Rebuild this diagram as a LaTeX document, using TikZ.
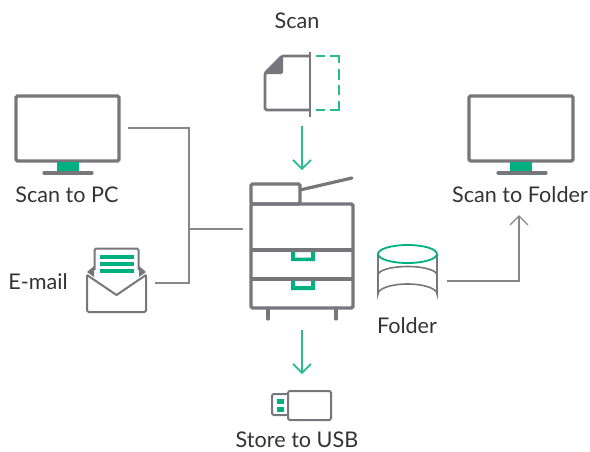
\documentclass[tikz,border=0pt]{standalone}
\usepackage{fontspec}
\setmainfont{Lato}
\usetikzlibrary{arrows.meta}
\definecolor{icongray}{HTML}{77777B}
\definecolor{linegray}{HTML}{87878A}
\definecolor{brandgreen}{HTML}{00B081}
\definecolor{arrowgreen}{HTML}{2ABB8E}
\definecolor{textcol}{HTML}{333333}
\tikzset{
  icon/.style={draw=icongray,line width=3.2pt,rounded corners=1.5pt},
  thinicon/.style={draw=icongray,line width=2pt,rounded corners=1.5pt},
  label/.style={text=textcol,font=\fontsize{21.6pt}{23pt}\selectfont,inner sep=0pt,anchor=base},
  wire/.style={draw=linegray,line width=1.4pt},
  greenarrow/.style={draw=arrowgreen,line width=1.6pt,-{Straight Barb[length=9pt,width=18pt,line width=1.6pt]}},
  grayarrow/.style={draw=linegray,line width=1.4pt,-{Straight Barb[length=9pt,width=18pt,line width=1.4pt]}},
  scandash/.style={draw=arrowgreen,line width=2.8pt}
}
\begin{document}
\begin{tikzpicture}[x=1pt,y=-1pt]
\useasboundingbox (0,0) rectangle (590,451);
% labels
\node[label] (lscan) at (297,28) {Scan};
\node[label] (lpc) at (67,202) {Scan to PC};
\node[label] (lmail) at (38,289) {E-mail};
\node[label] (lfolder) at (407,333) {Folder};
\node[label] (lscanf) at (520,202) {Scan to Folder};
\node[label] (lusb) at (297,447) {Store to USB};
% scan icon
\draw[thinicon,line width=2.8pt] (282,56) -- (309,56) (309,110) -- (265,110) -- (265,73) -- (282,56);
\fill[icongray] (283,55) -- (283,68) [rounded corners=2pt] -- (283,74) -- (264,74) [sharp corners] -- cycle;
\draw[icongray,line width=2.8pt] (310,52) -- (310,117);
\draw[scandash] (316,56) -- (325,56) (330,56) -- (339,56) -- (339,63) (339,69) -- (339,80) (339,85) -- (339,95) (339,101) -- (339,110) -- (330,110) (325,110) -- (316,110);
% printer
\draw[icon] (251,204) -- (300,204) -- (300,184) -- (251,184) -- cycle;
\draw[icon,line cap=round] (300,190) -- (352,178);
\draw[icon] (251,204) rectangle (353,308);
\draw[icon,rounded corners=0pt] (251,250) -- (353,250) (251,279) -- (353,279);
\draw[icon,line cap=round,rounded corners=0pt] (268,308) -- (268,319) (336,308) -- (336,319);
\fill[brandgreen,even odd rule] (291,252) rectangle (315,261) (295,252) rectangle (311,257.5);
\fill[brandgreen,even odd rule] (291,281) rectangle (315,290) (295,281) rectangle (311,286);
% monitors
\draw[icon] (16,96) rectangle (119,161);
\fill[brandgreen] (57,162) rectangle (79,172);
\draw[icon,line cap=round,rounded corners=0pt] (44,173) -- (92,173);
\draw[icon] (469,96) rectangle (573,161);
\fill[brandgreen] (510,162) rectangle (532,172);
\draw[icon,line cap=round,rounded corners=0pt] (498,173) -- (546,173);
% envelope
\fill[icongray] (94,266) -- (87,272) -- (94,277) -- cycle;
\fill[icongray] (139,266) -- (146,272) -- (139,277) -- cycle;
\draw[thinicon] (94.5,270) -- (94.5,248.5) -- (138.5,248.5) -- (138.5,270);
\draw[thinicon] (87,275) -- (87,312) -- (146,312) -- (146,275);
\draw[icongray,line width=2pt,line join=round] (87,275) -- (116.5,295) -- (146,275);
\foreach \y in {257,264,271}{\fill[brandgreen] (100,\y-1.6) rectangle (134,\y+1.6);}
% folder cylinder
\draw[icongray,line width=1.6pt] (378,254) -- (378,294) arc[start angle=180,end angle=360,x radius=29.5,y radius=10] -- (437,254);
\draw[icongray,line width=1.6pt] (378,275) arc[start angle=180,end angle=360,x radius=29.5,y radius=8.5];
\draw[brandgreen,line width=1.8pt,fill=white] (407.5,254) ellipse[x radius=29.5,y radius=9];
% USB
\draw[thinicon] (288,394) -- (272,394) -- (272,415) -- (288,415);
\draw[thinicon] (288,391) rectangle (331,420);
\fill[brandgreen] (277,399) rectangle (284,404);
\fill[brandgreen] (277,407) rectangle (284,411.5);
% connector anchors
\coordinate (pc) at (128,128);
\coordinate (mail) at (155,283);
\coordinate (printerL) at (243,229);
\coordinate (jn) at (189,229);
\coordinate (scanout) at (302,126);
\coordinate (printerT) at (302,170);
\coordinate (printerB) at (302,330);
\coordinate (usb) at (302,374);
\coordinate (cyl) at (447,281);
\coordinate (scanf) at (519,215);
% connectors
\draw[wire] (pc) -| (mail -| jn) -- (mail);
\draw[wire] (jn) -- (printerL);
\draw[grayarrow] (cyl) -| (scanf);
\draw[greenarrow] (scanout) -- (printerT);
\draw[greenarrow] (printerB) -- (usb);
\end{tikzpicture}
\end{document}
